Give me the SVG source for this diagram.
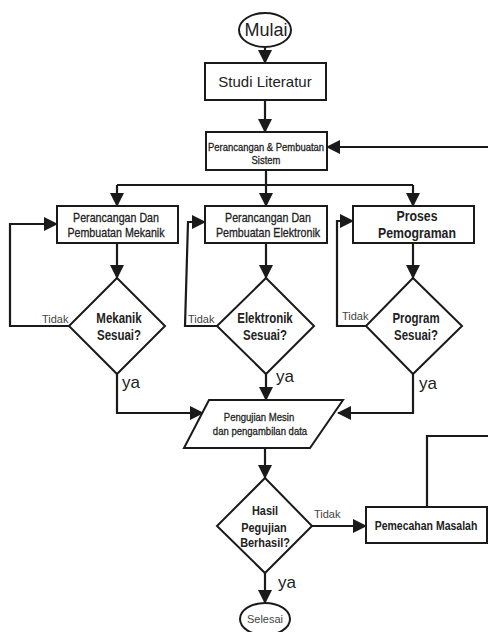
<svg xmlns="http://www.w3.org/2000/svg" width="488" height="632" viewBox="0 0 488 632">
<defs>
<marker id="ah" markerUnits="userSpaceOnUse" markerWidth="14" markerHeight="14" viewBox="0 0 14 14" refX="13" refY="7" orient="auto">
<path d="M0,0 L14,7 L0,14 Z" fill="#1a1a1a"/>
</marker>
<style>
.sh{fill:#fff;stroke:#1a1a1a;stroke-width:2}
.ln{fill:none;stroke:#1a1a1a;stroke-width:2.2}
.ar{fill:none;stroke:#1a1a1a;stroke-width:2.2;marker-end:url(#ah)}
text{font-family:"Liberation Sans",Arial,sans-serif;fill:#222;text-anchor:middle}
.b{font-weight:bold}
.n{stroke:#222;stroke-width:0.3}
.lbl{fill:#444;font-size:11px;text-anchor:start}
.ya{font-size:17px;text-anchor:start}
</style>
</defs>
<rect width="488" height="632" fill="#fff"/>

<g id="connectors">
<path class="ar" d="M265,48 V63"/>
<path class="ar" d="M265,100 V132"/>
<path class="ln" d="M266,170 V185 M117,185 H413"/>
<path class="ar" d="M117,185 V206"/>
<path class="ar" d="M266,185 V206"/>
<path class="ar" d="M413,185 V206"/>
<path class="ar" d="M488,147 H327"/>
<path class="ar" d="M117,243 V278"/>
<path class="ar" d="M266,243 V278"/>
<path class="ar" d="M413,243 V278"/>
<path class="ar" d="M69,326 H10 V224 H57"/>
<path class="ar" d="M217,326 H185 L188,222 H205"/>
<path class="ar" d="M366,326 H337 V221 H353"/>
<path class="ar" d="M117,374 V413 H203"/>
<path class="ar" d="M266,374 V400"/>
<path class="ar" d="M413,374 V413 H338"/>
<path class="ar" d="M265,448 V478"/>
<path class="ar" d="M312,526 H366"/>
<path class="ln" d="M427,507 V436 H488"/>
<path class="ar" d="M265,573 V603"/>
<text class="lbl" x="42" y="323">Tidak</text>
<text class="lbl" x="188" y="323">Tidak</text>
<text class="lbl" x="342" y="320">Tidak</text>
<text class="lbl" x="314" y="518">Tidak</text>
<text class="ya" x="122" y="388">ya</text>
<text class="ya" x="276" y="382">ya</text>
<text class="ya" x="419" y="389">ya</text>
<text class="ya" x="278" y="588">ya</text>
</g>

<g id="mulai">
<ellipse class="sh" cx="265" cy="30" rx="26" ry="17"/>
<text x="266" y="36" font-size="18">Mulai</text>
</g>

<g id="studi">
<rect class="sh" x="205" y="63" width="121" height="37"/>
<text x="265" y="87" font-size="15">Studi Literatur</text>
</g>

<g id="perancangan">
<rect class="sh" x="206" y="132" width="121" height="38"/>
<text class="n" font-size="11" transform="translate(266,151) scale(0.86,1)">Perancangan &amp; Pembuatan</text>
<text class="n" font-size="11" transform="translate(266,164) scale(0.86,1)">Sistem</text>
</g>

<g id="mekanik">
<rect class="sh" x="57" y="206" width="121" height="37"/>
<text class="n" font-size="13" transform="translate(116,222) scale(0.82,1)">Perancangan Dan</text>
<text class="n" font-size="13" transform="translate(116,237) scale(0.82,1)">Pembuatan Mekanik</text>
</g>

<g id="elektronik">
<rect class="sh" x="205" y="206" width="122" height="37"/>
<text class="n" font-size="13" transform="translate(268,222) scale(0.82,1)">Perancangan Dan</text>
<text class="n" font-size="13" transform="translate(268,237) scale(0.82,1)">Pembuatan Elektronik</text>
</g>

<g id="program">
<rect class="sh" x="353" y="206" width="121" height="37"/>
<text class="b" font-size="15" transform="translate(417,221) scale(0.82,1)">Proses</text>
<text class="b" font-size="15" transform="translate(417,238) scale(0.82,1)">Pemograman</text>
</g>

<g id="cek-mekanik">
<path class="sh" d="M117,278 L165,326 L117,374 L69,326 Z"/>
<text class="b" font-size="14" transform="translate(119,323) scale(0.82,1)">Mekanik</text>
<text class="b" font-size="14" transform="translate(119,340) scale(0.82,1)">Sesuai?</text>
</g>

<g id="cek-elektronik">
<path class="sh" d="M266,278 L314,326 L266,374 L217,326 Z"/>
<text class="b" font-size="14" transform="translate(265,323) scale(0.82,1)">Elektronik</text>
<text class="b" font-size="14" transform="translate(265,340) scale(0.82,1)">Sesuai?</text>
</g>

<g id="cek-program">
<path class="sh" d="M413,278 L462,326 L413,374 L366,326 Z"/>
<text class="b" font-size="14" transform="translate(416,323) scale(0.82,1)">Program</text>
<text class="b" font-size="14" transform="translate(416,340) scale(0.82,1)">Sesuai?</text>
</g>

<g id="pengujian">
<path class="sh" d="M209,400 L343,400 L310,448 L184,448 Z"/>
<text class="n" font-size="11.5" transform="translate(259,421) scale(0.83,1)">Pengujian Mesin</text>
<text class="n" font-size="11.5" transform="translate(260,435) scale(0.83,1)">dan pengambilan data</text>
</g>

<g id="cek-hasil">
<path class="sh" d="M265,478 L312,526 L265,573 L217,526 Z"/>
<text class="b" font-size="13" transform="translate(265,515) scale(0.84,1)">Hasil</text>
<text class="b" font-size="13" transform="translate(264,532) scale(0.84,1)">Pegujian</text>
<text class="b" font-size="13" transform="translate(265,547) scale(0.84,1)">Berhasil?</text>
</g>

<g id="pemecahan">
<rect class="sh" x="366" y="507" width="121" height="36"/>
<text class="b" font-size="12.5" transform="translate(426,530) scale(0.84,1)">Pemecahan Masalah</text>
</g>

<g id="selesai">
<ellipse class="sh" cx="265" cy="619" rx="25" ry="16"/>
<text x="265" y="623" font-size="11" style="fill:#444">Selesai</text>
</g>
</svg>
